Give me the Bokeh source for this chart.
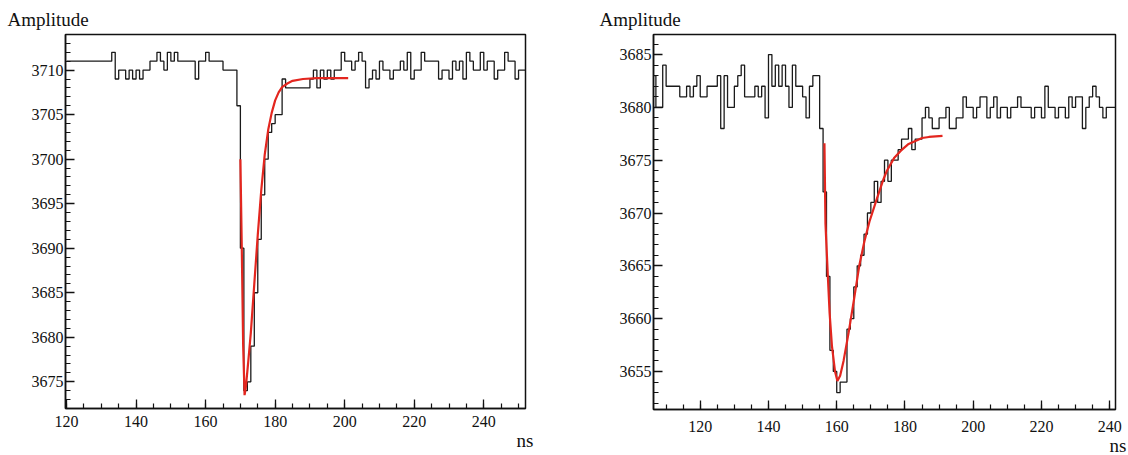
from bokeh.plotting import figure
from bokeh.layouts import row
from bokeh.models import Range1d, SingleIntervalTicker, Title
from bokeh.embed import file_html
from bokeh.resources import INLINE

# ---------------- data: left panel ----------------
left_first_bin = 120
left_counts = [
    3711, 3711, 3711, 3711, 3711, 3711, 3711, 3711, 3711, 3711,
    3711, 3711, 3711, 3712, 3709, 3710, 3710, 3709, 3710, 3709,
    3710, 3709, 3710, 3710, 3711, 3711, 3712, 3711, 3710, 3712,
    3711, 3712, 3711, 3711, 3711, 3711, 3711, 3709, 3711, 3711,
    3712, 3711, 3711, 3711, 3711, 3710, 3710, 3710, 3710, 3706,
    3690, 3674, 3675, 3679, 3685, 3691, 3696, 3700, 3703, 3704,
    3705, 3705, 3709, 3708, 3708, 3708, 3708, 3708, 3708, 3708,
    3709, 3710, 3708, 3710, 3709, 3710, 3709, 3710, 3710, 3712,
    3711, 3711, 3710, 3711, 3712, 3711, 3708, 3709, 3710, 3709,
    3711, 3710, 3710, 3709, 3710, 3710, 3711, 3710, 3712, 3709,
    3710, 3710, 3712, 3711, 3711, 3711, 3711, 3709, 3710, 3710,
    3709, 3711, 3710, 3711, 3709, 3712, 3711, 3710, 3710, 3712,
    3710, 3711, 3711, 3709, 3710, 3710, 3712, 3711, 3711, 3709,
    3710, 3710,
]
left_fit_ns = [170.0, 170.4, 170.8, 171.2, 171.6, 172.2, 173.0, 174.0, 175.0, 176.0,
               177.0, 178.0, 179.0, 180.0, 181.0, 182.0, 183.5, 185.0, 188.0, 192.0,
               196.0, 201.0]
left_fit_amp = [3700.0, 3690.0, 3679.0, 3673.5, 3674.5, 3677.0, 3680.5, 3686.0, 3691.5, 3696.5,
                3700.5, 3703.3, 3705.2, 3706.6, 3707.5, 3708.1, 3708.5, 3708.8, 3709.0, 3709.1,
                3709.1, 3709.1]

# ---------------- data: right panel ----------------
right_first_bin = 106
right_counts = [
    3683, 3680, 3680, 3684,
    3682, 3682, 3682, 3682, 3681, 3681, 3682, 3681, 3682, 3683,
    3681, 3681, 3682, 3682, 3682, 3683, 3678, 3683, 3680, 3680,
    3682, 3683, 3684, 3681, 3681, 3681, 3682, 3681, 3682, 3679,
    3685, 3682, 3684, 3682, 3684, 3682, 3680, 3684, 3682, 3682,
    3681, 3679, 3682, 3683, 3683, 3678, 3672, 3664, 3657, 3655,
    3653, 3654, 3654, 3659, 3660, 3663, 3665, 3666, 3668, 3670,
    3671, 3673, 3671, 3673, 3675, 3673, 3675, 3675, 3676, 3677,
    3677, 3678, 3676, 3677, 3677, 3679, 3680, 3679, 3678, 3678,
    3679, 3679, 3680, 3678, 3678, 3679, 3679, 3681, 3680, 3680,
    3679, 3680, 3681, 3681, 3679, 3680, 3681, 3679, 3680, 3680,
    3679, 3680, 3680, 3681, 3680, 3680, 3680, 3679, 3680, 3680,
    3679, 3682, 3680, 3680, 3679, 3680, 3680, 3679, 3681, 3680,
    3681, 3681, 3678, 3680, 3681, 3682, 3681, 3680, 3679, 3680,
    3680, 3680,
]
right_fit_ns = [156.4, 156.7, 157.4, 157.9, 158.6, 159.5, 160.2, 161.0, 162.0, 163.5,
                165.1, 166.6, 168.1, 169.6, 171.7, 173.7, 174.7, 176.8, 178.8, 180.9,
                182.9, 185.0, 187.0, 191.0]
right_fit_amp = [3676.6, 3669.0, 3664.0, 3660.6, 3657.4, 3655.0, 3654.1, 3654.6, 3656.0, 3658.7,
                 3661.9, 3665.0, 3667.3, 3669.2, 3671.3, 3673.2, 3674.0, 3675.2, 3675.9, 3676.5,
                 3676.8, 3677.1, 3677.2, 3677.3]

y_title = "Amplitude"
x_title = "ns"

SERIF = "Liberation Serif"
INK = "#111111"


def make_panel(first_bin, counts, fit_x, fit_y, xr, yr,
               b_left, b_right, b_top, b_bottom, fw, fh,
               amp_offset, ns_offset, ns_standoff, x_label_standoff):
    p = figure(output_backend="svg", toolbar_location=None,
               x_range=Range1d(*xr), y_range=Range1d(*yr),
               frame_width=fw, frame_height=fh,
               min_border_left=b_left, min_border_right=b_right,
               min_border_top=b_top, min_border_bottom=b_bottom,
               background_fill_color="white", border_fill_color="white")
    p.grid.visible = False
    p.outline_line_color = INK
    p.outline_line_width = 1.5
    p.outline_line_alpha = 1.0

    edges = [first_bin + i for i in range(len(counts) + 1)]
    ys = list(counts) + [counts[-1]]
    p.step(edges, ys, mode="after", line_color="#1a1a1a", line_width=1.3)
    p.line(fit_x, fit_y, line_color="#e3261f", line_width=2.2)

    p.xaxis.ticker = SingleIntervalTicker(interval=20, num_minor_ticks=4)
    p.yaxis.ticker = SingleIntervalTicker(interval=5, num_minor_ticks=5)
    for ax in (p.xaxis[0], p.yaxis[0]):
        ax.axis_line_color = INK
        ax.axis_line_width = 1.5
        ax.major_tick_in = 9
        ax.major_tick_out = 0
        ax.minor_tick_in = 5
        ax.minor_tick_out = 0
        ax.major_tick_line_color = INK
        ax.minor_tick_line_color = INK
        ax.major_tick_line_width = 1.3
        ax.minor_tick_line_width = 1.2
        ax.major_label_text_font = SERIF
        ax.major_label_text_font_size = "16px"
        ax.major_label_text_color = INK
    p.xaxis.major_label_standoff = x_label_standoff
    p.yaxis.major_label_standoff = 2

    p.title.text = y_title
    p.title.align = "left"
    p.title.vertical_align = "top"
    p.title.offset = amp_offset
    p.title.text_font = SERIF
    p.title.text_font_size = "19px"
    p.title.text_font_style = "normal"
    p.title.text_color = INK
    p.title.standoff = 6

    ns = Title(text=x_title, align="right", offset=ns_offset, text_font=SERIF,
               text_font_size="19px", text_font_style="normal", text_color=INK,
               standoff=ns_standoff)
    p.add_layout(ns, "below")
    return p


p1 = make_panel(left_first_bin, left_counts, left_fit_ns, left_fit_amp,
                (119.7, 252.0), (3672.0, 3714.0),
                65, 35, 32, 49, 460, 374, -58, -8, -4, 7)
p2 = make_panel(right_first_bin, right_counts, right_fit_ns, right_fit_amp,
                (106.3, 241.7), (3651.4, 3686.9),
                93, 13, 34, 46, 462, 375, -54, -11, -3, 11)

layout = row(p1, p2)
open("out.html", "w").write(file_html(layout, INLINE))
